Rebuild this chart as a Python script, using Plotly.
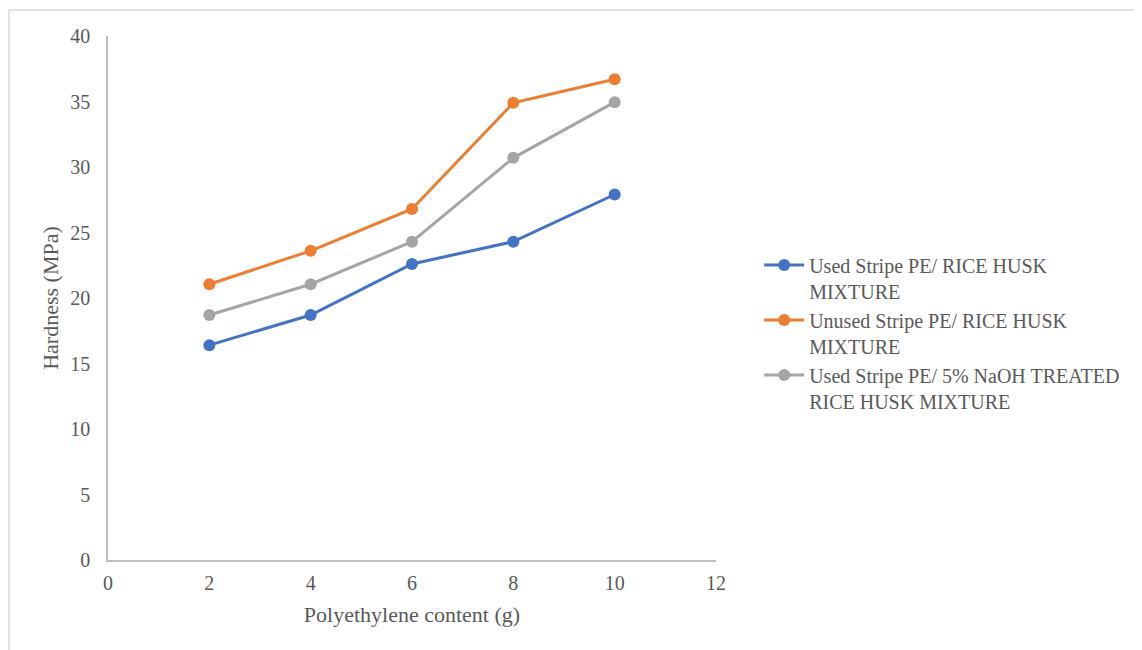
import plotly.graph_objects as go

x_vals = [2, 4, 6, 8, 10]
used_pe = [16.4, 18.7, 22.6, 24.3, 27.9]
unused_pe = [21.05, 23.6, 26.8, 34.9, 36.7]
naoh_pe = [18.7, 21.05, 24.3, 30.7, 34.95]

names = [
    "Used Stripe PE/ RICE HUSK<br>MIXTURE",
    "Unused Stripe PE/ RICE HUSK<br>MIXTURE",
    "Used Stripe PE/ 5% NaOH TREATED<br>RICE HUSK MIXTURE",
]
colors = ["#4472C4", "#ED7D31", "#A5A5A5"]
series = [used_pe, unused_pe, naoh_pe]

fig = go.Figure()
for name, col, ys in zip(names, colors, series):
    fig.add_trace(go.Scatter(
        x=x_vals, y=ys, name=name, mode="lines+markers",
        line=dict(color=col, width=3),
        marker=dict(color=col, size=12),
    ))

font_family = "Liberation Serif, Times New Roman, serif"
axis_col = "#BFBFBF"
text_col = "#595959"

fig.update_layout(
    width=1142, height=650,
    margin=dict(l=100, r=434, t=28, b=98),
    paper_bgcolor="white", plot_bgcolor="white",
    font=dict(family=font_family, color=text_col, size=20),
    showlegend=True,
    legend=dict(
        x=1.071, y=0.6, xanchor="left", yanchor="top",
        font=dict(family=font_family, size=20, color=text_col),
        valign="top", itemwidth=40,
    ),
    xaxis=dict(
        range=[0, 12], tickvals=[0, 2, 4, 6, 8, 10, 12],
        showgrid=False, zeroline=False,
        showline=True, linecolor=axis_col, linewidth=1.5,
        ticks="", ticklen=0, ticklabelstandoff=4,
        tickfont=dict(size=20, color=text_col),
        title=dict(text="Polyethylene content (g)", font=dict(size=22, color=text_col), standoff=14),
    ),
    yaxis=dict(
        range=[0, 40], tickvals=[0, 5, 10, 15, 20, 25, 30, 35, 40],
        showgrid=False, zeroline=False,
        showline=True, linecolor=axis_col, linewidth=1.5,
        ticks="", ticklen=0, ticklabelstandoff=12,
        tickfont=dict(size=20, color=text_col),
        title=dict(text="Hardness (MPa)", font=dict(size=22, color=text_col), standoff=6),
    ),
    shapes=[
        dict(type="line", xref="paper", yref="paper",
             x0=-0.1628, x1=1.71, y0=1.0496, y1=1.0496,
             line=dict(color="#D9D9D9", width=1.5)),
        dict(type="line", xref="paper", yref="paper",
             x0=-0.1628, x1=-0.1628, y0=1.0496, y1=-0.19,
             line=dict(color="#D9D9D9", width=1.5)),
    ],
)

fig.write_html("out.html")
